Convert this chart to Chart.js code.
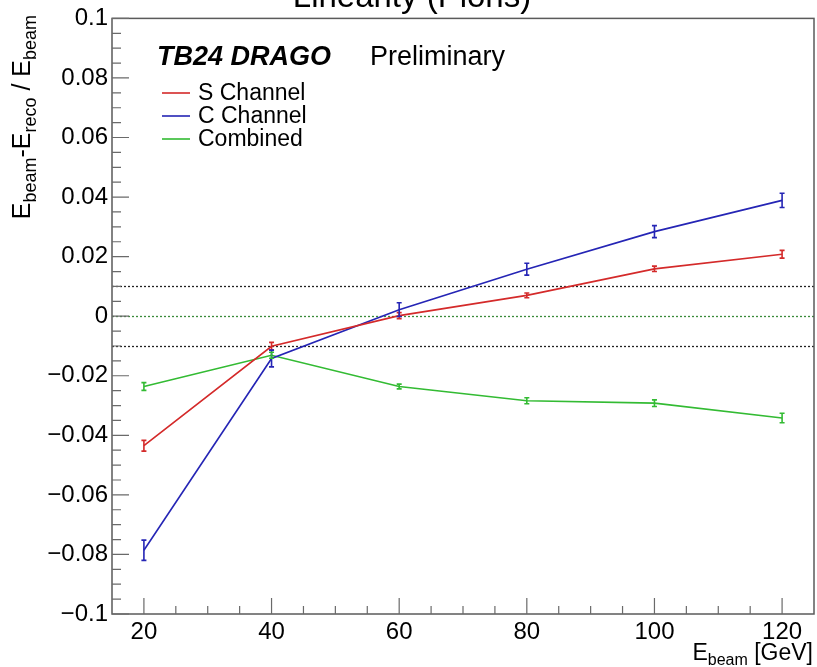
<!DOCTYPE html>
<html><head><meta charset="utf-8">
<script src="https://cdn.jsdelivr.net/npm/chart.js@4/dist/chart.umd.min.js"></script>
<style>html,body{margin:0;padding:0;background:#fff;}#wrap{width:817px;height:667px;}</style>
</head><body><div id="wrap"><canvas id="c" width="817" height="667"></canvas></div>
<script>
const energies = [20, 40, 60, 80, 100, 120];
const sVals = [-0.0435, -0.0101, 0.0002, 0.0070, 0.0159, 0.0208];
const sErr  = [0.0018, 0.0013, 0.0010, 0.0008, 0.0009, 0.0013];
const cVals = [-0.0786, -0.0142, 0.0022, 0.0158, 0.0284, 0.0389];
const cErr  = [0.0034, 0.0028, 0.0023, 0.0020, 0.0020, 0.0024];
const combVals = [-0.0236, -0.0131, -0.0236, -0.0284, -0.0292, -0.0342];
const combErr  = [0.0013, 0.0010, 0.0008, 0.0010, 0.0011, 0.0016];
const seriesNames = ["S Channel", "C Channel", "Combined"];
const xTicks = [20, 40, 60, 80, 100, 120];
const yTicks = [-0.1, -0.08, -0.06, -0.04, -0.02, 0, 0.02, 0.04, 0.06, 0.08, 0.1];
const refLines = [0.01, 0, -0.01];
const titleText = "Linearity (Pions)";

const colors = ['#d42a2a', '#2525b5', '#33bb33'];
const vals = [sVals, cVals, combVals];
const errs = [sErr, cErr, combErr];
const FONT = '"Liberation Sans", Arial, sans-serif';

function fmtY(v){
  const r = Math.round(v*100)/100;
  if (r === 0) return '0';
  const s = String(Math.abs(r));
  return (r < 0 ? '\u2212' : '') + s;
}

const datasets = vals.map((arr, k) => ({
  label: seriesNames[k],
  data: energies.map((e, i) => ({x: e, y: arr[i]})),
  borderColor: colors[k],
  backgroundColor: colors[k],
  borderWidth: 1.6,
  pointRadius: 0,
  tension: 0,
  fill: false
}));

function drawSub(ctx, parts, x, y, big, small, drop){
  let cx = x;
  for (const [t, sub] of parts){
    ctx.font = (sub ? small : big) + 'px ' + FONT;
    ctx.fillText(t, cx, y + (sub ? drop : 0));
    cx += ctx.measureText(t).width;
  }
  return cx - x;
}
function measureSub(ctx, parts, big, small){
  let w = 0;
  for (const [t, sub] of parts){
    ctx.font = (sub ? small : big) + 'px ' + FONT;
    w += ctx.measureText(t).width;
  }
  return w;
}

const rootPlugin = {
  id: 'rootStyle',
  beforeDatasetsDraw(chart){
    const ctx = chart.ctx, a = chart.chartArea, ys = chart.scales.y;
    ctx.save();
    ctx.lineWidth = 1.3;
    ctx.setLineDash([2, 2]);
    refLines.forEach(v => {
      ctx.strokeStyle = v === 0 ? '#3a8a3a' : '#222';
      const py = Math.round(ys.getPixelForValue(v)) + 0.5;
      ctx.beginPath(); ctx.moveTo(a.left, py); ctx.lineTo(a.right, py); ctx.stroke();
    });
    ctx.restore();
  },
  afterDatasetsDraw(chart){
    const ctx = chart.ctx, a = chart.chartArea, xs = chart.scales.x, ys = chart.scales.y;
    ctx.save();
    ctx.lineWidth = 1.6;
    vals.forEach((arr, k) => {
      ctx.strokeStyle = colors[k];
      arr.forEach((v, i) => {
        const px = xs.getPixelForValue(energies[i]);
        const y1 = ys.getPixelForValue(v - errs[k][i]);
        const y2 = ys.getPixelForValue(v + errs[k][i]);
        ctx.beginPath();
        ctx.moveTo(px, y1); ctx.lineTo(px, y2);
        ctx.moveTo(px - 2.5, y1); ctx.lineTo(px + 2.5, y1);
        ctx.moveTo(px - 2.5, y2); ctx.lineTo(px + 2.5, y2);
        ctx.stroke();
      });
    });
    ctx.strokeStyle = '#5a5a5a';
    ctx.lineWidth = 1.5;
    ctx.strokeRect(a.left, a.top, a.right - a.left, a.bottom - a.top);
    ctx.strokeStyle = '#6a6a6a';
    ctx.lineWidth = 1.2;
    ctx.beginPath();
    for (let v = -0.1; v <= 0.1001; v += 0.005){
      const r = Math.round(v*1000)/1000;
      const major = Math.abs(Math.round(r*100) - r*100) < 1e-6 && Math.round(r*100) % 2 === 0;
      const py = ys.getPixelForValue(r);
      ctx.moveTo(a.left, py); ctx.lineTo(a.left + (major ? 17 : 9), py);
    }
    for (let v = 20; v <= 120; v += 5){
      const major = v % 20 === 0;
      const px = xs.getPixelForValue(v);
      ctx.moveTo(px, a.bottom); ctx.lineTo(px, a.bottom - (major ? 16 : 8));
    }
    ctx.stroke();
    ctx.fillStyle = '#000';
    ctx.font = '33px ' + FONT;
    ctx.textAlign = 'center';
    ctx.textBaseline = 'alphabetic';
    ctx.fillText(titleText, 412, 7);
    ctx.textAlign = 'left';
    ctx.font = 'italic bold 27px ' + FONT;
    ctx.fillText('TB24 DRAGO', 157, 65);
    ctx.font = '27px ' + FONT;
    ctx.fillText('Preliminary', 370, 65);
    const ly = [93, 116, 139];
    seriesNames.forEach((n, k) => {
      ctx.strokeStyle = colors[k];
      ctx.lineWidth = 1.6;
      ctx.beginPath(); ctx.moveTo(162, ly[k]); ctx.lineTo(190, ly[k]); ctx.stroke();
      ctx.fillStyle = '#000';
      ctx.font = '23px ' + FONT;
      ctx.textBaseline = 'middle';
      ctx.fillText(n, 198, ly[k] + 1);
    });
    ctx.textBaseline = 'alphabetic';
    const xParts = [['E', false], ['beam', true], [' [GeV]', false]];
    const xw = measureSub(ctx, xParts, 23, 16);
    drawSub(ctx, xParts, 813 - xw, 660, 23, 16, 5);
    const yParts = [['E', false], ['beam', true], ['-E', false], ['reco', true], [' / E', false], ['beam', true]];
    const yw = measureSub(ctx, yParts, 25, 18);
    ctx.translate(30, 15 + yw);
    ctx.rotate(-Math.PI/2);
    drawSub(ctx, yParts, 0, 0, 25, 18, 6);
    ctx.restore();
  }
};

new Chart(document.getElementById('c'), {
  type: 'line',
  data: { datasets },
  plugins: [rootPlugin],
  options: {
    responsive: false,
    animation: false,
    devicePixelRatio: 1,
    layout: { padding: { left: 0, top: 17, right: 3, bottom: 0 } },
    plugins: { legend: { display: false }, title: { display: false }, tooltip: { enabled: false } },
    scales: {
      x: {
        type: 'linear', min: 15, max: 125,
        afterBuildTicks: s => { s.ticks = xTicks.map(v => ({value: v})); },
        afterFit: s => { s.height = 53; },
        grid: { display: false, drawTicks: false },
        border: { display: false },
        ticks: { color: '#000', font: { size: 24, family: FONT }, padding: 4, maxRotation: 0, autoSkip: false }
      },
      y: {
        type: 'linear', min: -0.1, max: 0.1,
        afterBuildTicks: s => { s.ticks = yTicks.map(v => ({value: v})); },
        afterFit: s => { s.width = 112; },
        grid: { display: false, drawTicks: false },
        border: { display: false },
        ticks: { color: '#000', font: { size: 24, family: FONT }, padding: 4, callback: v => fmtY(v), autoSkip: false }
      }
    }
  }
});
</script>
</body></html>
